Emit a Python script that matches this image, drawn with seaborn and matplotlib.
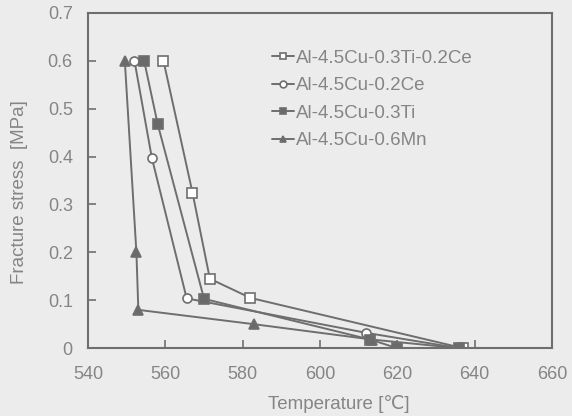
import numpy as np
import pandas as pd
import seaborn as sns
import matplotlib.pyplot as plt

sns.set_style('ticks')
plt.rcParams['font.family'] = ['Liberation Sans', 'DejaVu Sans', 'Noto Sans CJK SC']

# ============================================================
# data
# ============================================================
labels = ['Al-4.5Cu-0.3Ti-0.2Ce', 'Al-4.5Cu-0.2Ce', 'Al-4.5Cu-0.3Ti', 'Al-4.5Cu-0.6Mn']

t_tice = [559.5, 567, 571.5, 582, 637]
s_tice = [0.60, 0.325, 0.145, 0.105, 0.0]

t_ce = [552, 556.5, 565.5, 612, 636]
s_ce = [0.60, 0.397, 0.104, 0.032, 0.0]

t_ti = [554.5, 558, 570, 613, 620, 636]
s_ti = [0.60, 0.468, 0.103, 0.018, 0.0, 0.0]

t_mn = [549.5, 552.5, 553, 583, 613.5, 636]
s_mn = [0.60, 0.20, 0.08, 0.05, 0.018, 0.0]

series = [(t_tice, s_tice), (t_ce, s_ce), (t_ti, s_ti), (t_mn, s_mn)]
markers = ['s', 'o', 's', '^']
faces = ['white', 'white', '#6a6a6a', '#6a6a6a']

bg = '#ececec'
fg = '#6e6e6e'
txt = '#858585'

fig = plt.figure(figsize=(5.72, 4.16), dpi=100, facecolor=bg)
ax = fig.add_axes([0.154, 0.163, 0.811, 0.806], facecolor=bg)

for (t, s), lab, m, fc in zip(series, labels, markers, faces):
    df = pd.DataFrame({'T': t, 'S': s})
    sns.lineplot(data=df, x='T', y='S', ax=ax, sort=False, estimator=None,
                 color=fg, linewidth=1.4, marker=m, markersize=6.5,
                 markerfacecolor=fc, markeredgecolor=fg, markeredgewidth=1.2,
                 label=lab)

ax.set_xlim(540, 660)
ax.set_ylim(0, 0.7)
ax.set_xticks(np.arange(540, 661, 20))
ax.set_yticks(np.arange(0, 0.71, 0.1))
ax.set_yticklabels(['0', '0.1', '0.2', '0.3', '0.4', '0.5', '0.6', '0.7'])
ax.tick_params(direction='in', length=5.5, width=1.2, colors=fg,
               labelcolor=txt, labelsize=13)
ax.tick_params(axis='x', pad=13)
ax.tick_params(axis='y', pad=11)
for sp in ax.spines.values():
    sp.set_color(fg)
    sp.set_linewidth(1.5)

ax.set_xlabel('Temperature [℃]', color=txt, fontsize=13.5)
ax.set_ylabel('Fracture stress  [MPa]', color=txt, fontsize=13.5)
ax.xaxis.set_label_coords(0.54, -0.14)
ax.yaxis.set_label_coords(-0.13, 0.465)

leg = ax.legend(loc='upper left', bbox_to_anchor=(0.36, 0.94), frameon=False,
                handlelength=1.2, handletextpad=0.1, labelspacing=0.55,
                fontsize=13.5, markerscale=0.75)
for t in leg.get_texts():
    t.set_color(txt)

plt.savefig('out.png', dpi=100, facecolor=bg)
